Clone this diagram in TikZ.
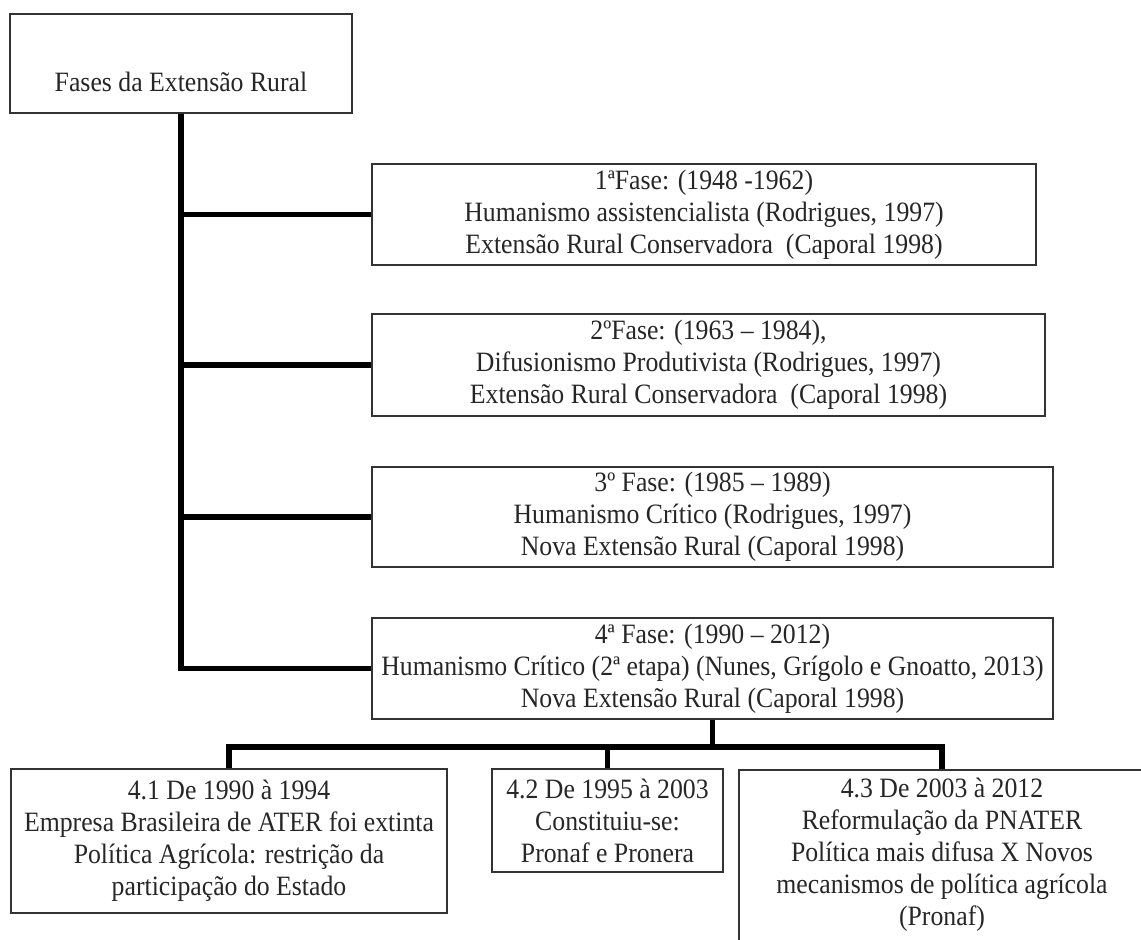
\documentclass[tikz,border=0pt]{standalone}
\usepackage{fontspec}
\setmainfont{Liberation Serif}[FakeStretch=0.92]
\tikzset{
  phase/.style={draw=black!80, line width=0.9pt, rectangle, align=center,
    inner xsep=2pt, inner ysep=0pt, text=black!85,
    font=\fontsize{14}{16}\selectfont},
  link/.style={line width=2.8pt},
}
\begin{document}
\begin{tikzpicture}[x=0.5pt, y=-0.5pt]
       \clip (0,0) rectangle (1141,940);
       \node[phase, minimum width=171pt, text height=38.75pt, text depth=10.75pt] (top) at (181,63.5) {Fases da Extensão Rural};
       \node[phase, minimum width=332pt, minimum height=50.5pt] (b1) at (704,214.5)
         {1ªFase: (1948 -1962)\\ Humanismo assistencialista (Rodrigues, 1997)\\ Extensão Rural Conservadora\ \ (Caporal 1998)};
       \node[phase, minimum width=336.5pt, minimum height=51pt] (b2) at (708.5,365)
         {2ºFase: (1963 – 1984),\\ Difusionismo Produtivista (Rodrigues, 1997)\\ Extensão Rural Conservadora\ \ (Caporal 1998)};
       \node[phase, minimum width=340.5pt, minimum height=50pt] (b3) at (712.5,517)
         {3º Fase: (1985 – 1989)\\ Humanismo Crítico (Rodrigues, 1997)\\ Nova Extensão Rural (Caporal 1998)};
       \node[phase, minimum width=340.5pt, minimum height=50.5pt] (b4) at (712.5,668.5)
         {4ª Fase: (1990 – 2012)\\ Humanismo Crítico (2ª etapa) (Nunes, Grígolo e Gnoatto, 2013)\\ Nova Extensão Rural (Caporal 1998)};
       \node[phase, minimum width=218pt, minimum height=72pt] (b41) at (229,841)
         {4.1 De 1990 à 1994\\ Empresa Brasileira de ATER foi extinta\\ Política Agrícola: restrição da\\ participação do Estado};
       \node[phase, minimum width=115.5pt, minimum height=51.5pt] (b42) at (607.5,820.5)
         {4.2 De 1995 à 2003\\ Constituiu-se:\\ Pronaf e Pronera};
       \node[phase, minimum width=203pt, anchor=north, inner ysep=4pt, text depth=60pt] (b43) at (942,769)
         {4.3 De 2003 à 2012\\ Reformulação da PNATER\\ Política mais difusa X Novos\\ mecanismos de política agrícola\\ (Pronaf)};
       \coordinate (fork) at (712.5,747);
       \draw[link] (top.south) |- (b4.west);
       \foreach \n in {b1,b2,b3}
         \draw[link] (top.south |- \n.west) -- (\n.west);
       \draw[link] (b4.south) -- (fork);
       \draw[link] (b41.north) |- (fork) -| (b43.north);
       \draw[link] (fork -| b42.north) -- (b42.north);
\end{tikzpicture}
\end{document}
